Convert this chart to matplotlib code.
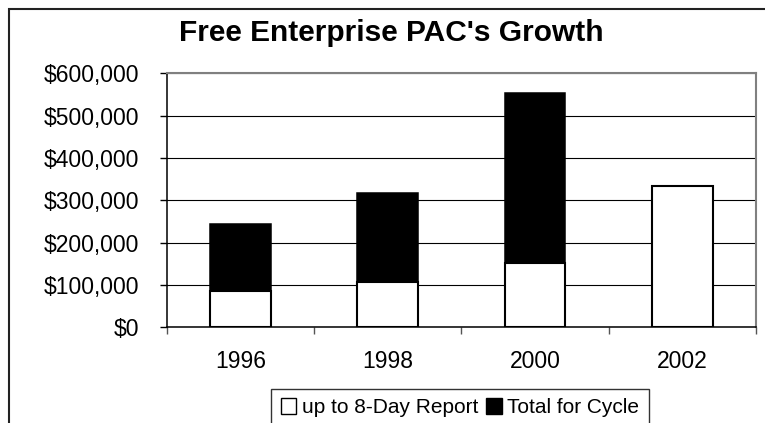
import matplotlib
matplotlib.use('Agg')
import matplotlib.pyplot as plt
from matplotlib.patches import Rectangle, Patch
from matplotlib.ticker import FuncFormatter, FixedLocator

plt.rcParams['font.family'] = ['Liberation Sans', 'DejaVu Sans']

# ── Data ──────────────────────────────────────────────────────────────────────
years = ['1996', '1998', '2000', '2002']
total_cycle = [243000, 318000, 554000, 0]
up_to_8day = [86000, 107000, 152000, 334000]

W, H = 765, 423
fig = plt.figure(figsize=(W / 100, H / 100), dpi=100)
ax = fig.add_axes([166.7 / W, 1 - 327.3 / H, (756 - 166.7) / W, (327.3 - 73.3) / H])

x = list(range(len(years)))
ax.bar(x, total_cycle, width=0.41, color='black', edgecolor='black', lw=1.1, zorder=2)
ax.bar(x, up_to_8day, width=0.41, color='white', edgecolor='black', lw=1.5, zorder=3)

ax.set_xlim(-0.5, 3.5)
ax.set_ylim(0, 600000)
ax.set_yticks(range(0, 600001, 100000))
ax.yaxis.set_major_formatter(FuncFormatter(lambda v, p: f'${v:,.0f}'))
ax.grid(axis='y', color='black', lw=0.8, zorder=1)
ax.set_axisbelow(True)

ax.set_xticks(x)
ax.set_xticklabels(years)
ax.xaxis.set_minor_locator(FixedLocator([-0.5, 0.5, 1.5, 2.5, 3.5]))
ax.tick_params(axis='x', which='major', length=0, pad=16, labelsize=16.5)
ax.tick_params(axis='x', which='minor', length=5, width=1, direction='out', color='#555555')
ax.tick_params(axis='y', length=5, width=1, direction='out', pad=15, labelsize=16.5)

for s in ['top', 'right']:
    ax.spines[s].set_color('#808080')
    ax.spines[s].set_linewidth(1.5)
for s in ['left', 'bottom']:
    ax.spines[s].set_color('black')
    ax.spines[s].set_linewidth(1.1)

fig.text(391 / W, 1 - 33 / H, "Free Enterprise PAC's Growth", ha='center', va='center',
         fontsize=21.5, fontweight='bold')

handles = [Patch(facecolor='white', edgecolor='black', lw=1),
           Patch(facecolor='black', edgecolor='black', lw=1)]
leg = fig.legend(handles, ['up to 8-Day Report', 'Total for Cycle'], ncol=2,
                 loc='upper center', bbox_to_anchor=(460 / W, 1 - 389 / H),
                 fontsize=15, frameon=True, fancybox=False, handlelength=0.75,
                 handleheight=0.75, handletextpad=0.25, columnspacing=0.4,
                 borderpad=0.45, borderaxespad=0)
leg.get_frame().set_edgecolor('black')
leg.get_frame().set_linewidth(1)

fig.add_artist(Rectangle((8.5 / W, -0.2), 1.2, 1.2 - 8.5 / H, transform=fig.transFigure,
                         fill=False, edgecolor='#222222', lw=1.5))

fig.savefig('out.png', dpi=100)
